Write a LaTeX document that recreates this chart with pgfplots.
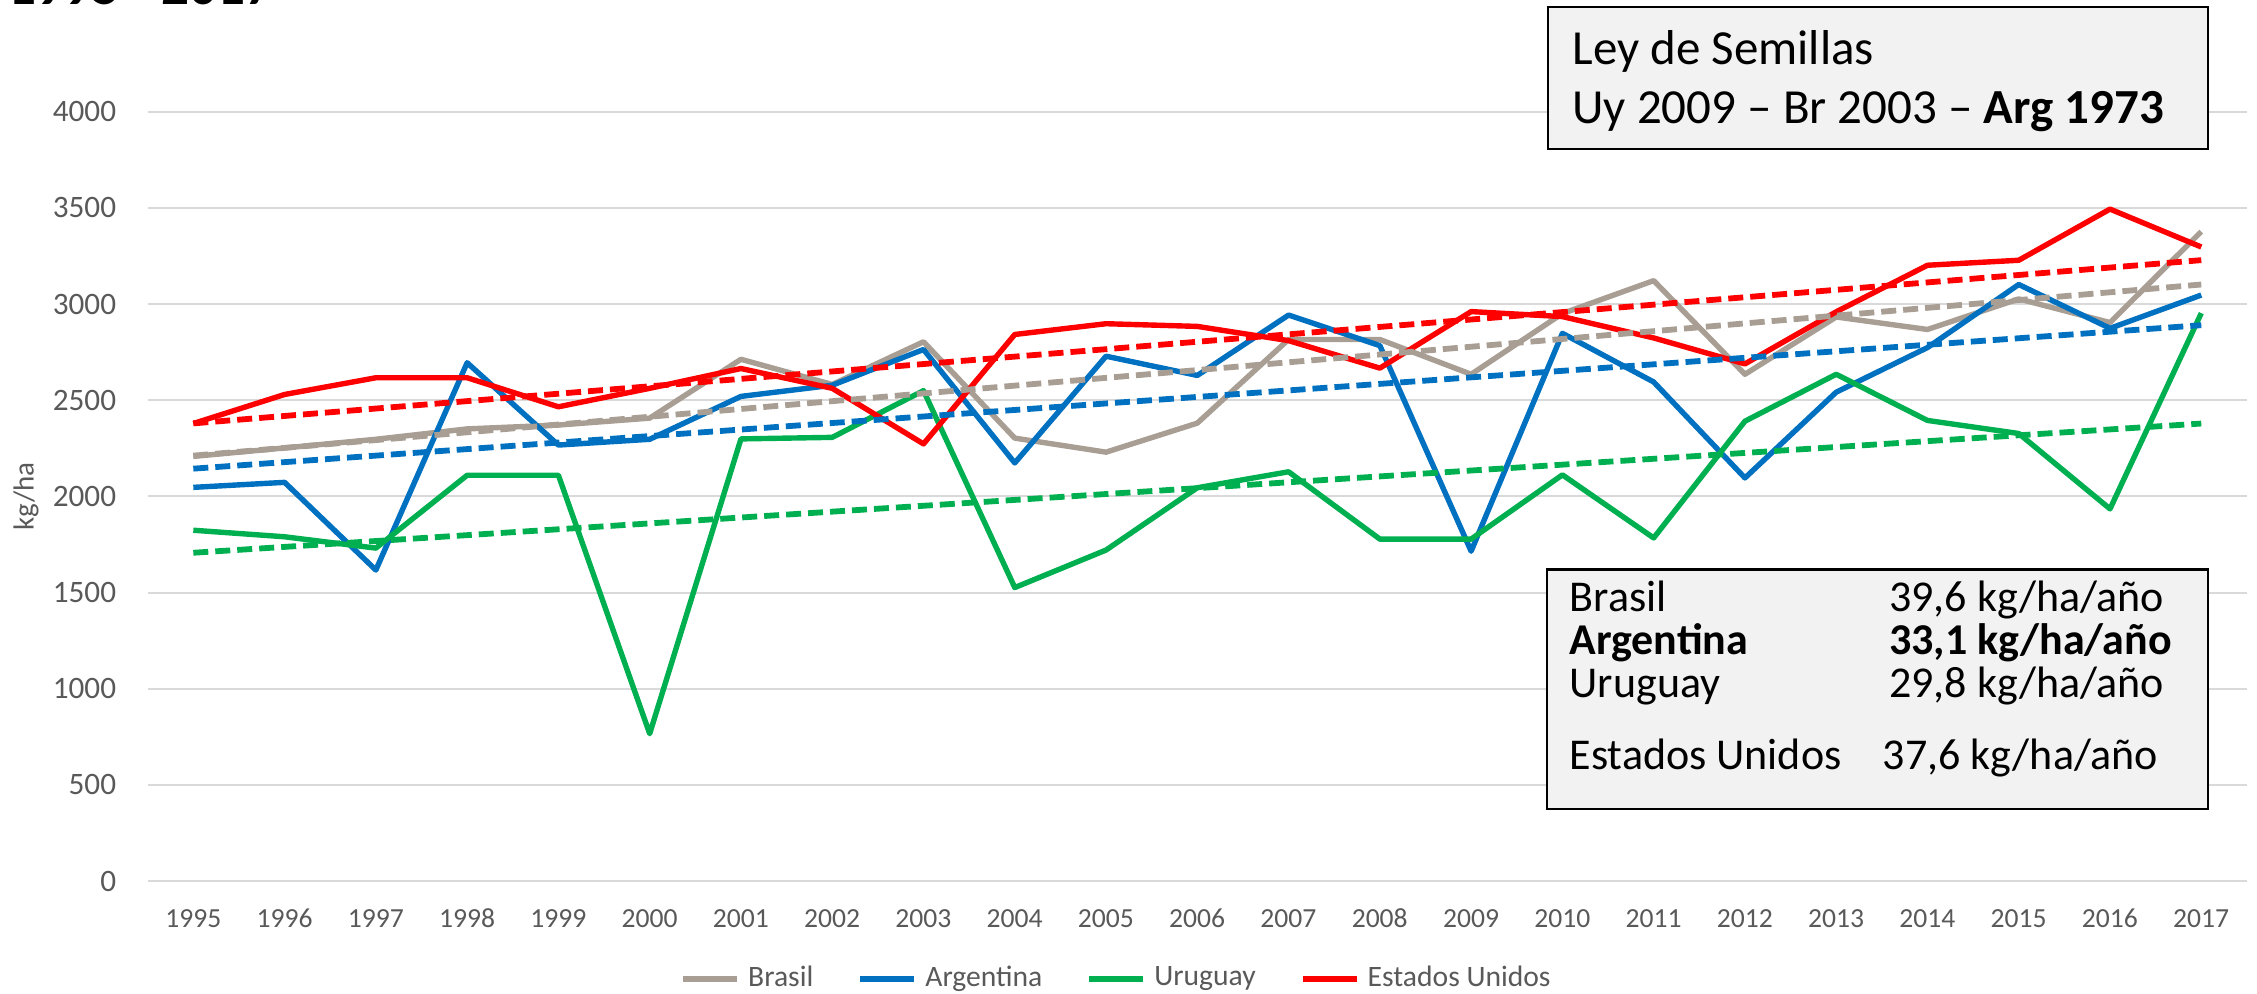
\documentclass[border=0pt]{standalone}
\usepackage{pgfplots}
\usepackage{pgfplotstable}
\pgfplotsset{compat=1.18}
\usepackage{fontspec}
\setmainfont{Carlito}
\definecolor{cbra}{HTML}{A89E93}
\definecolor{carg}{HTML}{0070C0}
\definecolor{curu}{HTML}{00B050}
\definecolor{cusa}{HTML}{FF0000}
\definecolor{cgrid}{HTML}{D9D9D9}
\definecolor{ctxt}{HTML}{595959}
\definecolor{cbox}{HTML}{F2F2F2}

\pgfplotstableread{
year bra arg uru usa
1995 2208 2047 1824 2379
1996 2252 2073 1790 2530
1997 2297 1617 1731 2617
1998 2351 2695 2110 2617
1999 2371 2267 2110 2466
2000 2407 2297 766 2562
2001 2713 2520 2299 2665
2002 2582 2578 2307 2562
2003 2804 2764 2550 2273
2004 2303 2174 1526 2842
2005 2230 2729 1721 2898
2006 2381 2629 2045 2884
2007 2816 2943 2128 2810
2008 2816 2784 1778 2667
2009 2635 1715 1778 2961
2010 2951 2848 2112 2935
2011 3122 2595 1784 2824
2012 2635 2096 2391 2689
2013 2933 2542 2635 2960
2014 2868 2774 2395 3202
2015 3027 3102 2327 3228
2016 2904 2874 1935 3494
2017 3377 3047 2953 3297
}\data

\begin{document}
\begin{tikzpicture}
\useasboundingbox (0,0) rectangle (564.25pt,248.5pt);
\clip (0,0) rectangle (564.25pt,248.5pt);
\begin{axis}[
  scale only axis, width=524.8pt, height=192.3pt,
  at={(36.925pt,28.25pt)}, anchor=south west,
  xmin=1994.5, xmax=2017.5, ymin=0, ymax=4000,
  xtick={1995,...,2017}, ytick={0,500,...,4000},
  ymajorgrids, grid style={cgrid, line width=0.5pt},
  axis line style={draw=none}, major tick length=0pt,
  /pgf/number format/assume math mode=true,
  /pgf/number format/1000 sep={},
  xticklabel style={font=\fontsize{6.9pt}{8pt}\selectfont, text=ctxt, anchor=center, inner sep=0pt, yshift=-9.3pt},
  yticklabel style={font=\fontsize{7.8pt}{9pt}\selectfont, text=ctxt, anchor=east, inner sep=0pt, xshift=-7.7pt},
  ylabel={kg/ha},
  every axis y label/.style={at={(axis description cs:-0.058,0.5)}, rotate=90, anchor=center, font=\fontsize{7.25pt}{9pt}\selectfont, text=ctxt},
  legend columns=4,
  legend style={at={(axis description cs:0.4629,-0.1274)}, anchor=center, draw=none, fill=none,
    font=\fontsize{7.4pt}{9pt}\selectfont, text=ctxt,
    /tikz/every even column/.append style={column sep=9pt}},
  legend image code/.code={\draw[#1, line width=1.5pt] (0pt,0pt) -- (13.5pt,0pt);},
  every axis plot/.append style={line width=1.35pt, line join=round},
]
\addplot[cbra] table[x=year, y=bra]{\data};
\addlegendentry{Brasil}
\addplot[carg] table[x=year, y=arg]{\data};
\addlegendentry{Argentina}
\addplot[curu] table[x=year, y=uru]{\data};
\addlegendentry{Uruguay}
\addplot[cusa] table[x=year, y=usa]{\data};
\addlegendentry{Estados Unidos}

\addplot[cbra, line width=1.45pt, dash pattern=on 3.75pt off 1.75pt, forget plot] table[x=year, y={create col/linear regression={y=bra}}]{\data};
\addplot[carg, line width=1.45pt, dash pattern=on 3.75pt off 1.75pt, forget plot] table[x=year, y={create col/linear regression={y=arg}}]{\data};
\addplot[curu, line width=1.45pt, dash pattern=on 3.75pt off 1.75pt, forget plot] table[x=year, y={create col/linear regression={y=uru}}]{\data};
\addplot[cusa, line width=1.45pt, dash pattern=on 3.75pt off 1.75pt, forget plot] table[x=year, y={create col/linear regression={y=usa}}]{\data};
\end{axis}

% partially visible title
\node[anchor=base east, inner sep=0pt, font=\bfseries\fontsize{13.75pt}{16pt}\selectfont] at (68.5pt,247.3pt) {1995 - 2017};

% top box
\draw[black, line width=0.6pt, fill=cbox] (387pt,211.25pt) rectangle (552pt,246.75pt);
\node[anchor=base west, inner sep=0pt, font=\fontsize{12.25pt}{14pt}\selectfont] at (392.9pt,232.3pt) {Ley de Semillas};
\node[anchor=base west, inner sep=0pt, font=\fontsize{12.25pt}{14pt}\selectfont] at (392.9pt,217.65pt) {Uy 2009 – Br 2003 – \textbf{Arg 1973}};

% bottom box
\draw[black, line width=0.6pt, fill=cbox] (386.75pt,46.2pt) rectangle (552pt,106.1pt);
\begin{scope}[every node/.style={anchor=base west, inner sep=0pt, font=\fontsize{11pt}{13pt}\selectfont}]
\node at (392.2pt,95.6pt) {Brasil};
\node at (472.1pt,95.6pt) {39,6 kg/ha/año};
\node at (392.2pt,84.8pt) {\textbf{Argentina}};
\node at (472.1pt,84.8pt) {\textbf{33,1 kg/ha/año}};
\node at (392.2pt,74.1pt) {Uruguay};
\node at (472.1pt,74.1pt) {29,8 kg/ha/año};
\node at (392.2pt,56.1pt) {Estados Unidos};
\node at (470.5pt,56.1pt) {37,6 kg/ha/año};
\end{scope}
\end{tikzpicture}
\end{document}
